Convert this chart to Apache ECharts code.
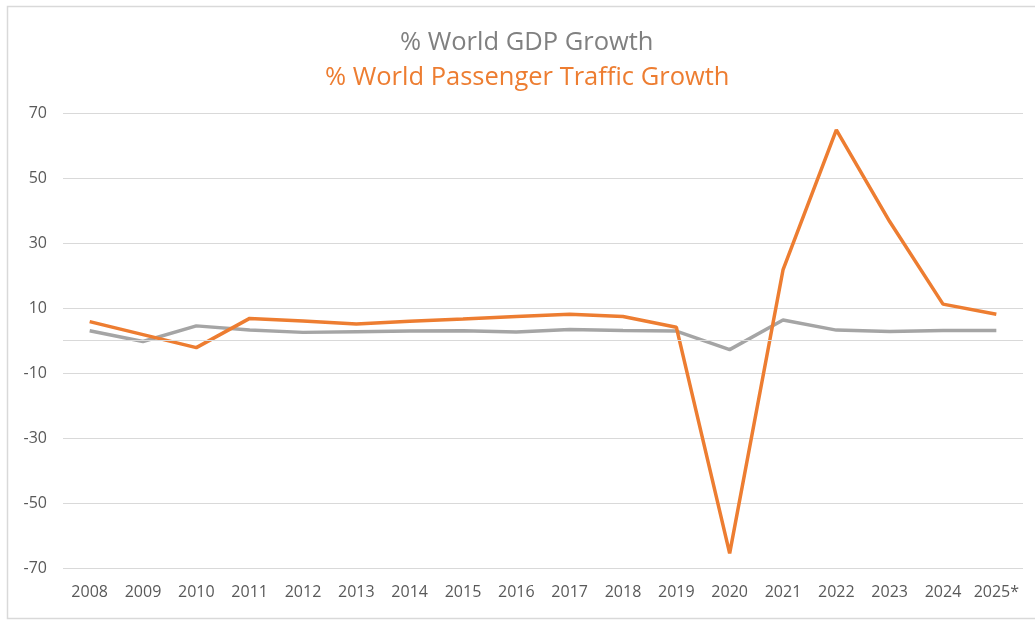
<!DOCTYPE html>
<html>
<head>
<meta charset="utf-8">
<script src="https://cdn.jsdelivr.net/npm/echarts@6/dist/echarts.min.js"></script>
<style>html,body{margin:0;padding:0;background:#fff;}#c{width:1035px;height:621px;}</style>
</head>
<body>
<div id="c"></div>
<script>
const years = ['2008','2009','2010','2011','2012','2013','2014','2015','2016','2017','2018','2019','2020','2021','2022','2023','2024','2025*'];
const gdpGrowth = [3.0, -0.3, 4.5, 3.2, 2.5, 2.7, 2.9, 3.0, 2.6, 3.4, 3.1, 2.9, -2.8, 6.3, 3.2, 2.8, 3.1, 3.1];
const paxGrowth = [5.8, 1.8, -2.2, 6.8, 6.0, 5.1, 5.9, 6.6, 7.4, 8.1, 7.4, 4.1, -65.5, 21.7, 64.8, 36.6, 11.2, 8.1];
const titleGdp = '% World GDP Growth';
const titlePax = '% World Passenger Traffic Growth';

const font = '"Open Sans", "Noto Sans", sans-serif';
const chart = echarts.init(document.getElementById('c'), null, {renderer: 'canvas'});
chart.setOption({
  animation: false,
  backgroundColor: '#ffffff',
  title: [
    {text: titleGdp, left: 400, top: 30, padding: 0, textStyle: {color: '#808080', fontSize: 25.5, fontWeight: 'normal', fontFamily: font}},
    {text: titlePax, left: 325, top: 65, padding: 0, textStyle: {color: '#ED7D31', fontSize: 25.5, fontWeight: 'normal', fontFamily: font}}
  ],
  graphic: [
    {type: 'rect', shape: {x: 7.5, y: 6.5, width: 1100, height: 612}, style: {fill: 'none', stroke: '#d9d9d9', lineWidth: 1.5}, silent: true}
  ],
  grid: {left: 63, right: 12, top: 113, bottom: 53, containLabel: false},
  xAxis: {
    type: 'category',
    data: years,
    boundaryGap: true,
    axisLine: {show: false},
    axisTick: {show: false},
    axisLabel: {color: '#595959', fontSize: 16, fontFamily: font, margin: 16, interval: 0}
  },
  yAxis: {
    type: 'value',
    min: -70, max: 70, interval: 20,
    axisLine: {show: false},
    axisTick: {show: false},
    splitLine: {lineStyle: {color: '#d9d9d9', width: 1}},
    axisLabel: {color: '#595959', fontSize: 16, fontFamily: font, margin: 16}
  },
  series: [
    {
      name: titleGdp, type: 'line', data: gdpGrowth, symbol: 'none',
      lineStyle: {color: '#A5A5A5', width: 3.5}, itemStyle: {color: '#A5A5A5'},
      markLine: {silent: true, symbol: 'none', label: {show: false},
        lineStyle: {color: '#d9d9d9', width: 1, type: 'solid'}, data: [{yAxis: 0}]},
      z: 2
    },
    {
      name: titlePax, type: 'line', data: paxGrowth, symbol: 'none',
      lineStyle: {color: '#ED7D31', width: 3.5}, itemStyle: {color: '#ED7D31'},
      z: 3
    }
  ]
});
</script>
</body>
</html>
